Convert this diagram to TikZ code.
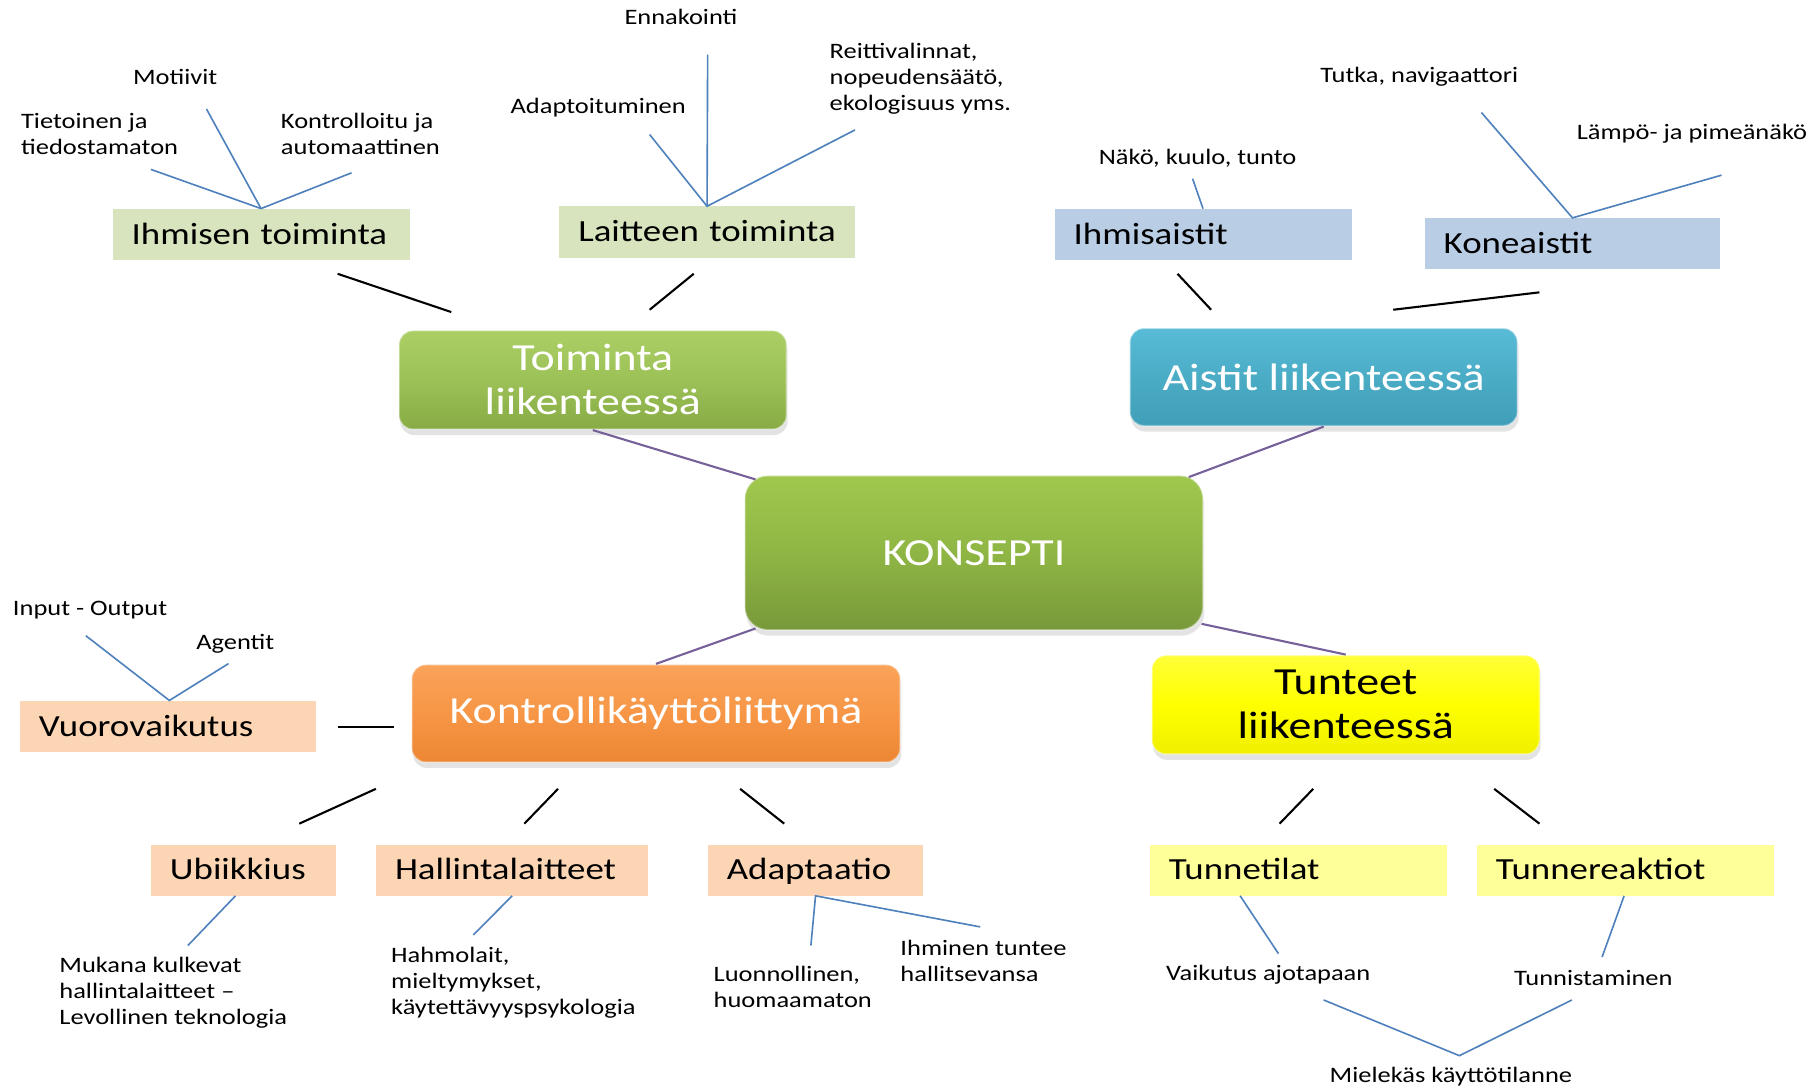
\documentclass[tikz,border=0pt]{standalone}
\usepackage{fontspec}
\setmainfont{Carlito}[FakeStretch=1.2]
\usetikzlibrary{shadows,calc}
\definecolor{bline}{HTML}{4F81BD}
\definecolor{pline}{HTML}{76609A}
\definecolor{lgreen}{HTML}{D7E4BD}
\definecolor{lblue}{HTML}{B9CDE5}
\definecolor{lpeach}{HTML}{FCD5B5}
\definecolor{lyellow}{HTML}{FFFF99}
\definecolor{gTop}{HTML}{ABCF64}
\definecolor{gMid}{HTML}{9CC157}
\definecolor{gBot}{HTML}{88AB45}
\definecolor{kTop}{HTML}{A0C84E}
\definecolor{kMid}{HTML}{8FB644}
\definecolor{kBot}{HTML}{78993A}
\definecolor{bTop}{HTML}{58BBD7}
\definecolor{bMid}{HTML}{4BACC6}
\definecolor{bBot}{HTML}{409EB8}
\definecolor{oTop}{HTML}{F9A35A}
\definecolor{oMid}{HTML}{F79646}
\definecolor{oBot}{HTML}{EC8733}
\definecolor{yTop}{HTML}{FFFF38}
\definecolor{yMid}{HTML}{FFFF00}
\definecolor{yBot}{HTML}{F0F000}
\begin{document}
\begin{tikzpicture}[x=1pt,y=-1pt,
  mainbox/.style={rounded corners=12pt, inner sep=0pt, align=center, text=white,
    font=\fontsize{33}{38}\selectfont, draw=white, draw opacity=0.35, line width=1.5pt,
    drop shadow={shadow xshift=1pt, shadow yshift=-5pt, opacity=0.22}},
  subbox/.style={inner sep=0pt, inner xsep=16.5pt, minimum height=44pt, align=left,
    text height=23pt, text depth=6pt, font=\fontsize{26.5}{30}\selectfont},
  lbl/.style={inner sep=0pt, font=\fontsize{19}{22.5}\selectfont, align=left, anchor=west},
  bl/.style={draw=bline, line width=1.4pt},
  kl/.style={draw=black, line width=1.8pt},
  pl/.style={draw=pline, line width=1.8pt}]
\fill[white] (0,0) rectangle (1568,939);
\useasboundingbox (0,0) rectangle (1568,939);

% main nodes
\node[mainbox, top color=gTop, bottom color=gBot, middle color=gMid, minimum width=334pt, minimum height=85pt] (toim) at (511,327.5) {Toiminta\\liikenteessä};
\node[mainbox, top color=bTop, bottom color=bBot, middle color=bMid, minimum width=334pt, minimum height=84pt] (ais) at (1141,325) {Aistit liikenteessä};
\node[mainbox, top color=kTop, bottom color=kBot, middle color=kMid, minimum width=395pt, minimum height=133pt, rounded corners=20pt] (kon) at (839.5,476.5) {KONSEPTI};
\node[mainbox, top color=oTop, bottom color=oBot, middle color=oMid, minimum width=421pt, minimum height=84pt] (ktr) at (565.5,615) {Kontrollikäyttöliittymä};
\node[mainbox, top color=yTop, bottom color=yBot, middle color=yMid, text=black, minimum width=334pt, minimum height=85pt] (tun) at (1160,607.5) {Tunteet\\liikenteessä};

% sub boxes (width = text width + 33)
\node[subbox, fill=lgreen, text width=223pt] (ihm) at (225,202) {Ihmisen toiminta};
\node[subbox, fill=lgreen, text width=222pt] (lai) at (609.5,200) {Laitteen toiminta};
\node[subbox, fill=lblue, text width=223pt] (ihs) at (1037,202) {Ihmisaistit};
\node[subbox, fill=lblue, text width=222pt] (kne) at (1355.5,210) {Koneaistit};
\node[subbox, fill=lpeach, text width=222pt] (vuo) at (144.5,626) {Vuorovaikutus};
\node[subbox, fill=lpeach, text width=127pt] (ubi) at (210,750) {Ubiikkius};
\node[subbox, fill=lpeach, text width=202pt] (hal) at (441.5,750) {Hallintalaitteet};
\node[subbox, fill=lpeach, text width=153pt] (ada) at (703,750) {Adaptaatio};
\node[subbox, fill=lyellow, text width=223pt] (tti) at (1119,750) {Tunnetilat};
\node[subbox, fill=lyellow, text width=223pt] (tre) at (1401,750) {Tunnereaktiot};

% labels
\node[lbl, anchor=center] (enn) at (587,15) {Ennakointi};
\node[lbl, anchor=center] (mot) at (151,66) {Motiivit};
\node[lbl] (tie) at (18,115.5) {Tietoinen ja\\tiedostamaton};
\node[lbl] (kontr) at (242,115.5) {Kontrolloitu ja\\automaattinen};
\node[lbl] (adt) at (440,93) {Adaptoituminen};
\node[lbl] (rei) at (715,68) {Reittivalinnat,\\nopeudensäätö,\\ekologisuus yms.};
\node[lbl] (tut) at (1138,66) {Tutka, navigaattori};
\node[lbl] (lam) at (1359,115) {Lämpö- ja pimeänäkö};
\node[lbl] (nak) at (947,136) {Näkö, kuulo, tunto};
\node[lbl] (inp) at (11,526) {Input - Output};
\node[lbl] (age) at (169,555) {Agentit};
\node[lbl] (muk) at (51,855.5) {Mukana kulkevat\\hallintalaitteet –\\Levollinen teknologia};
\node[lbl] (hah) at (337,847) {Hahmolait,\\mieltymykset,\\käytettävyyspsykologia};
\node[lbl] (luo) at (615,851) {Luonnollinen,\\huomaamaton};
\node[lbl] (iht) at (776,828) {Ihminen tuntee\\hallitsevansa};
\node[lbl] (vai) at (1005,840) {Vaikutus ajotapaan};
\node[lbl] (tnm) at (1305,843) {Tunnistaminen};
\node[lbl] (mie) at (1146,928) {Mielekäs käyttötilanne};

% free-end coordinates
\coordinate (a1) at (130,146);
\coordinate (a2) at (178,94);
\coordinate (a3) at (303,149);
\coordinate (b1) at (560,116);
\coordinate (b2) at (610,47);
\coordinate (b3) at (737,112);
\coordinate (c1) at (1028,154);
\coordinate (d1) at (1277,97);
\coordinate (d2) at (1484,151);
\coordinate (e1) at (74,548);
\coordinate (e2) at (197,572);
\coordinate (f1) at (162,815);
\coordinate (g1) at (408,806);
\coordinate (h1) at (699,815);
\coordinate (h2) at (845,799);
\coordinate (i1) at (1102,822);
\coordinate (j1) at (1381,825);
\coordinate (m1) at (1141,862);
\coordinate (m2) at (1258,910);
\coordinate (m3) at (1355,862);

% blue connectors
\draw[bl] (a1) -- (ihm.north) -- (a3);
\draw[bl] (a2) -- (ihm.north);
\draw[bl] (b1) -- (lai.north) -- (b3);
\draw[bl] (b2) -- (lai.north);
\draw[bl] (c1) -- (ihs.north);
\draw[bl] (d1) -- (kne.north) -- (d2);
\draw[bl] (e1) -- ([xshift=1.5pt]vuo.north) -- (e2);
\draw[bl] ([xshift=-7pt]ubi.south) -- (f1);
\draw[bl] (hal.south) -- (g1);
\draw[bl] (h1) -- (ada.south) -- (h2);
\draw[bl] ([xshift=-50pt]tti.south) -- (i1);
\draw[bl] ([xshift=-1pt]tre.south) -- (j1);
\draw[bl] (m1) -- (m2) -- (m3);

% black connectors (gapped)
\coordinate (k1a) at (291,236); \coordinate (k1b) at (389,269);
\coordinate (k2a) at (598,236); \coordinate (k2b) at (560,267);
\coordinate (k3a) at (1015,236); \coordinate (k3b) at (1044,267);
\coordinate (k4a) at (1327,252); \coordinate (k4b) at (1201,267);
\coordinate (k5a) at (291,627); \coordinate (k5b) at (340,627);
\coordinate (k6a) at (258,710); \coordinate (k6b) at (324,680);
\coordinate (k7a) at (452,710); \coordinate (k7b) at (481,680);
\coordinate (k8a) at (676,710); \coordinate (k8b) at (638,680);
\coordinate (k9a) at (1103,710); \coordinate (k9b) at (1132,680);
\coordinate (k10a) at (1327,710); \coordinate (k10b) at (1288,680);
\foreach \i in {1,...,10} \draw[kl] (k\i a) -- (k\i b);

% purple connectors to KONSEPTI
\draw[pl] (toim.south) -- ($(kon.north west)+(10,4)$);
\draw[pl] (ais.south) -- ($(kon.north east)+(-13,2)$);
\draw[pl] (ktr.north) -- ($(kon.south west)+(10,-2)$);
\draw[pl] (tun.north) -- ($(kon.south east)+(-2,-6)$);
\end{tikzpicture}
\end{document}
